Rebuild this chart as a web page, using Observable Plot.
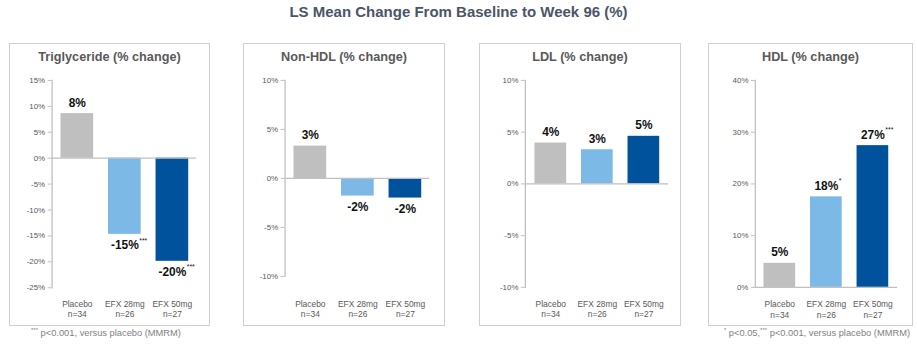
<!DOCTYPE html>
<html>
<head>
<meta charset="utf-8">
<script src="https://cdn.jsdelivr.net/npm/d3@7"></script>
<script src="https://cdn.jsdelivr.net/npm/@observablehq/plot@0.6"></script>
<style>
  html, body { margin: 0; padding: 0; background: #fff; }
  #root { position: relative; width: 917px; height: 349px; font-family: Arial, "Liberation Sans", sans-serif; overflow: hidden; }
  .title { position: absolute; left: 0; width: 917px; top: 3px; text-align: center; font-size: 15px; font-weight: bold; color: #4b5567; }
  .box { position: absolute; border: 1.5px solid #cfcfcf; box-sizing: border-box; }
  .ptitle { position: absolute; left: 0; right: 0; top: 6px; text-align: center; font-size: 12.7px; font-weight: bold; color: #595959; }
  .box svg { position: absolute; left: 0; top: 0; overflow: visible; }
  .note { position: absolute; font-size: 9.3px; color: #7f7f7f; white-space: nowrap; }
  .note sup { font-size: 6px; vertical-align: 4px; line-height: 0; }
</style>
</head>
<body>
<div id="root">
  <div class="title">LS Mean Change From Baseline to Week 96 (%)</div>
</div>
<script>
// ---- data ----
const groups = ["Placebo", "EFX 28mg", "EFX 50mg"];
const groupN = ["n=34", "n=26", "n=27"];
const colors = ["#bfbfbf", "#7cb9e6", "#00529c"];

const panelTitles = ["Triglyceride (% change)", "Non-HDL (% change)", "LDL (% change)", "HDL (% change)"];

const trigValues = [8.6, -14.7, -19.9];
const trigLabels = ["8%", "-15%", "-20%"];
const trigSig = ["", "***", "***"];

const nonhdlValues = [3.3, -1.8, -2.0];
const nonhdlLabels = ["3%", "-2%", "-2%"];
const nonhdlSig = ["", "", ""];

const ldlValues = [3.95, 3.3, 4.6];
const ldlLabels = ["4%", "3%", "5%"];
const ldlSig = ["", "", ""];

const hdlValues = [4.65, 17.5, 27.4];
const hdlLabels = ["5%", "18%", "27%"];
const hdlSig = ["", "*", "***"];

const trigTicks = [-25, -20, -15, -10, -5, 0, 5, 10, 15];
const nonhdlTicks = [-10, -5, 0, 5, 10];
const ldlTicks = [-10, -5, 0, 5, 10];
const hdlTicks = [0, 10, 20, 30, 40];

const footLeft = ["***", " p<0.001, versus placebo (MMRM)"];
const footRight = ["*", " p<0.05,", "***", " p<0.001, versus placebo (MMRM)"];

// ---- layout ----
const panels = [
  {values: trigValues, labels: trigLabels, sig: trigSig, ticks: trigTicks, domain: [-25, 15],
   box: [9, 43, 201, 283], ml: 42, mt: 36.3, mb: 37.3, mr: 13},
  {values: nonhdlValues, labels: nonhdlLabels, sig: nonhdlSig, ticks: nonhdlTicks, domain: [-10, 10],
   box: [243, 43, 202, 283], ml: 41, mt: 36.3, mb: 48.7, mr: 15},
  {values: ldlValues, labels: ldlLabels, sig: ldlSig, ticks: ldlTicks, domain: [-10, 10],
   box: [479, 43, 202, 283], ml: 45.3, mt: 36.3, mb: 37.7, mr: 12},
  {values: hdlValues, labels: hdlLabels, sig: hdlSig, ticks: hdlTicks, domain: [0, 40],
   box: [708, 43, 205, 283], ml: 46.3, mt: 36.3, mb: 37.7, mr: 15}
];

const ctx = document.createElement("canvas").getContext("2d");
ctx.font = "bold 12px Arial, 'Liberation Sans', sans-serif";
const halfW = s => ctx.measureText(s).width / 2;

const root = document.getElementById("root");

panels.forEach((p, i) => {
  const [bx, by, bw, bh] = p.box;
  const box = document.createElement("div");
  box.className = "box";
  Object.assign(box.style, {left: bx + "px", top: by + "px", width: bw + "px", height: bh + "px"});
  const t = document.createElement("div");
  t.className = "ptitle";
  t.textContent = panelTitles[i];
  box.appendChild(t);

  const data = groups.map((g, j) => ({g, n: groupN[j], v: p.values[j], label: p.labels[j], sig: p.sig[j]}));
  const frameBottom = bh - p.mb;
  const dy1 = 262 - frameBottom;
  const dy2 = 273 - frameBottom;

  const chart = Plot.plot({
    width: bw,
    height: bh,
    marginLeft: p.ml,
    marginRight: p.mr,
    marginTop: p.mt,
    marginBottom: p.mb,
    style: {fontFamily: "Arial, 'Liberation Sans', sans-serif", background: "transparent", overflow: "visible"},
    x: {domain: groups, paddingInner: 0.32, paddingOuter: 0.17, axis: null},
    y: {domain: p.domain, axis: null, label: null},
    color: {domain: groups, range: colors},
    marks: [
      Plot.barY(data, {x: "g", y: "v", fill: "g"}),
      Plot.frame({anchor: "left", stroke: "#c0c0c0", strokeWidth: 1.3}),
      Plot.ruleY([0], {stroke: "#c0c0c0", strokeWidth: 1.3}),
      Plot.axisY({ticks: p.ticks, tickSize: 4, tickPadding: 3, tickFormat: d => d + "%", label: null,
                  stroke: "#c0c0c0", fill: "#595959", fontSize: 8}),
      Plot.text(data.filter(d => d.v >= 0), {x: "g", y: "v", text: "label", fontSize: 12, fontWeight: "bold",
                       fill: "#111", dy: -11, lineAnchor: "middle"}),
      Plot.text(data.filter(d => d.v < 0), {x: "g", y: "v", text: "label", fontSize: 12, fontWeight: "bold",
                       fill: "#111", dy: 11, lineAnchor: "middle"}),
      ...data.filter(d => d.sig).map(d =>
        Plot.text([d], {x: "g", y: "v", text: "sig", fontSize: 7, fill: "#111", textAnchor: "start",
                        dx: halfW(d.label) + 0.5, dy: d.v >= 0 ? -16 : 6, lineAnchor: "middle"})),
      Plot.text(data, {x: "g", text: "g", frameAnchor: "bottom", dy: dy1, lineAnchor: "middle",
                       fontSize: 8.5, fill: "#595959"}),
      Plot.text(data, {x: "g", text: "n", frameAnchor: "bottom", dy: dy2, lineAnchor: "middle",
                       fontSize: 8.5, fill: "#595959"})
    ]
  });
  box.appendChild(chart);
  root.appendChild(box);
});

const nl = document.createElement("div");
nl.className = "note";
nl.innerHTML = `<sup>${footLeft[0]}</sup>${footLeft[1]}`;
Object.assign(nl.style, {left: "31px", top: "328px"});
root.appendChild(nl);

const nr = document.createElement("div");
nr.className = "note";
nr.innerHTML = `<sup>${footRight[0]}</sup>${footRight[1]}<sup>${footRight[2]}</sup>${footRight[3]}`;
Object.assign(nr.style, {right: "7px", top: "328px"});
root.appendChild(nr);
</script>
</body>
</html>
